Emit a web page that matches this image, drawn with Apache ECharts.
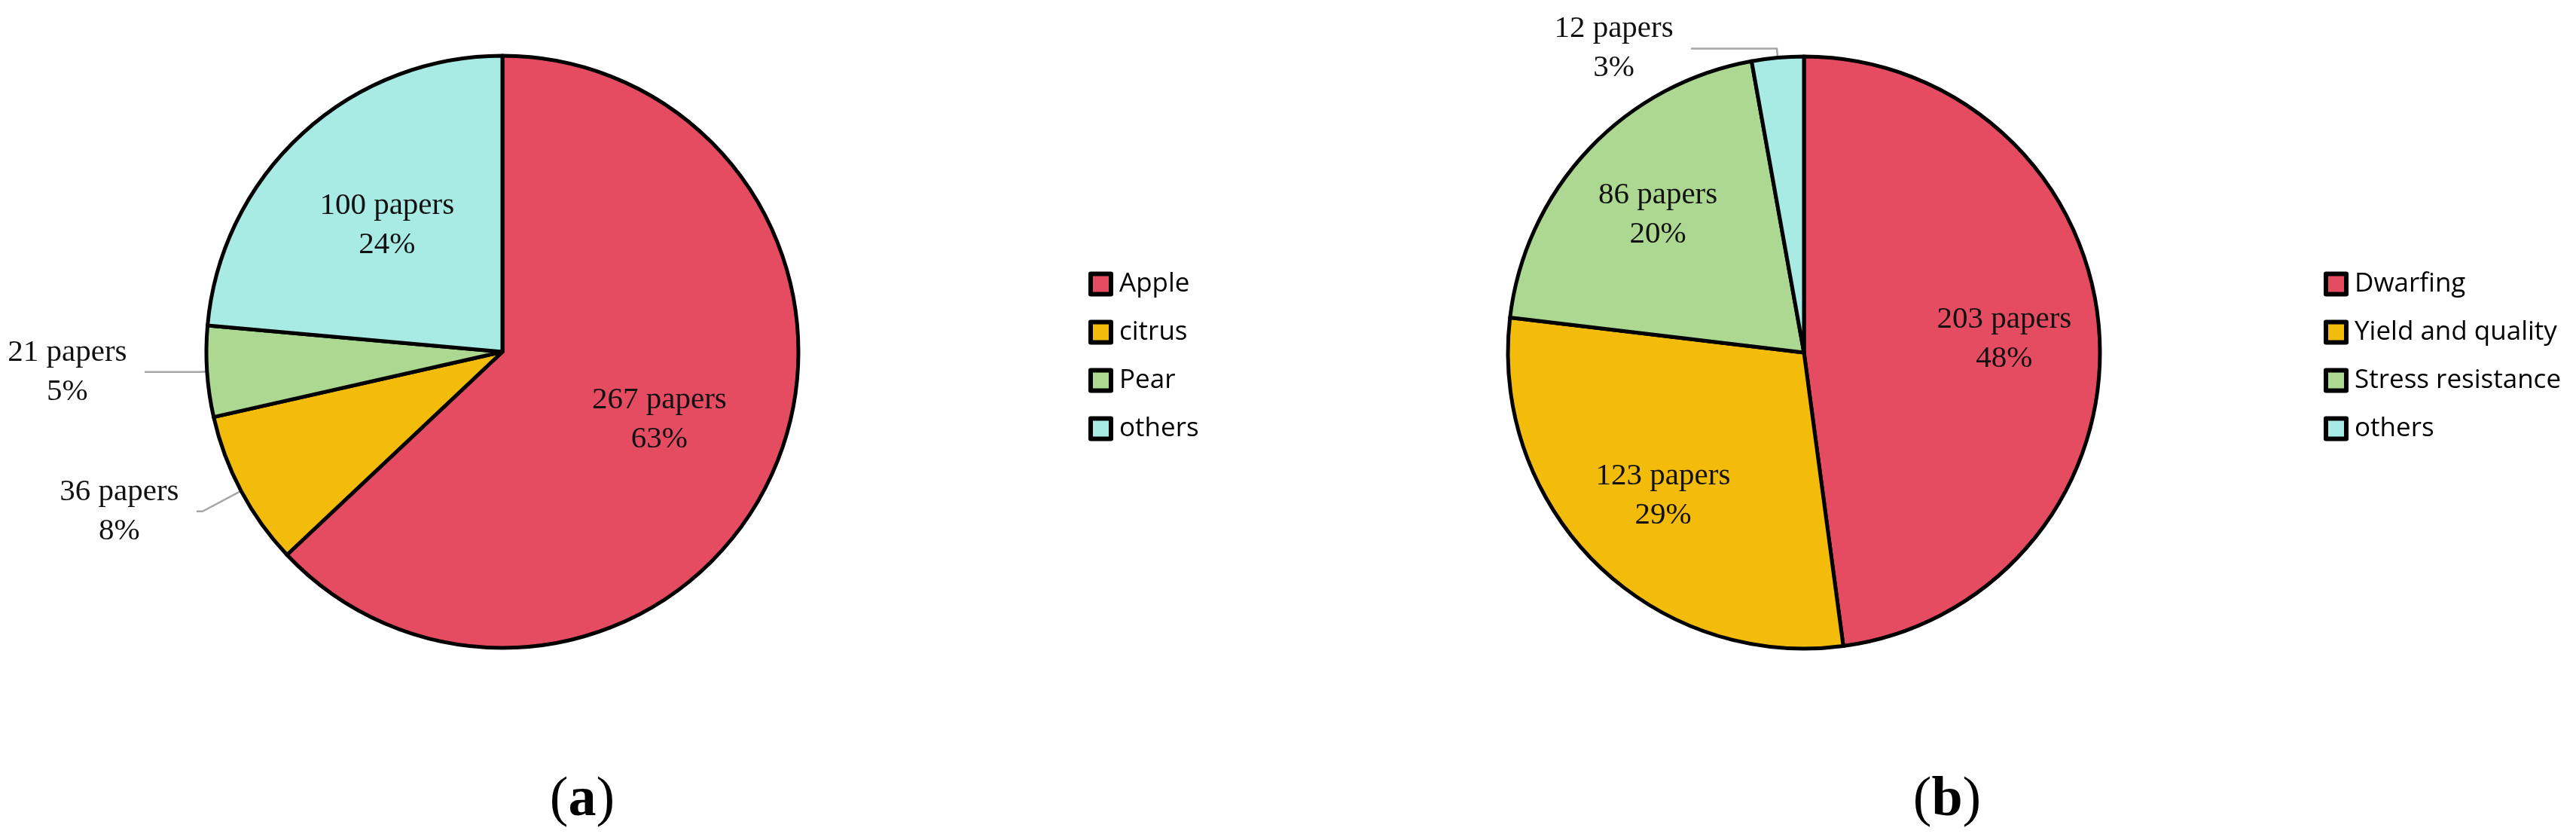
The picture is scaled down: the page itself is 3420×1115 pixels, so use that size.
<!DOCTYPE html>
<html>
<head>
<meta charset="utf-8">
<script src="https://cdn.jsdelivr.net/npm/echarts@6/dist/echarts.min.js"></script>
<style>
html, body { margin: 0; padding: 0; background: #fff; }
#chart { width: 3420px; height: 1115px; }
</style>
</head>
<body>
<div id="chart"></div>
<script>
// (a) papers per fruit crop
const cropNames = ['Apple', 'citrus', 'Pear', 'others']
const cropPapers = [267, 36, 21, 100]
// (b) papers per research topic
const traitNames = ['Dwarfing', 'Yield and quality', 'Stress resistance', 'others']
const traitPapers = [203, 123, 86, 12]
const panelTags = ['a', 'b']

const colors = ['#e54c62', '#f3bc0a', '#add891', '#a8eae4']
const serif = '"Liberation Serif", "Times New Roman", serif'

// leader line [length, length2] for the small slices labelled outside
const leadA = [null, [58, 8], [10, 73], null]
const leadB = [null, null, null, [12, 114]]

function labelText(p) {
  return '{t|' + p.value + ' papers}\n{t|' + Math.round(p.percent) + '%}'
}

const rich = {
  t: { fontFamily: serif, fontSize: 41, lineHeight: 52, color: '#111', width: 175, align: 'center' }
}

function pieSeries(names, values, center, lead) {
  const total = values.reduce((a, b) => a + b, 0)
  return {
    type: 'pie',
    center: center,
    radius: 393,
    startAngle: 90,
    clockwise: true,
    avoidLabelOverlap: false,
    animation: false,
    itemStyle: { borderColor: '#000', borderWidth: 5 },
    label: {
      position: 'outside',
      formatter: labelText,
      rich: rich,
      distanceToLabelLine: 15
    },
    labelLine: {
      lineStyle: { color: '#a6a6a6', width: 2.5 }
    },
    emphasis: { scale: false },
    data: names.map((n, i) => {
      const outside = values[i] / total < 0.1
      return {
        name: n,
        value: values[i],
        itemStyle: { color: colors[i] },
        label: { show: outside },
        labelLine: outside ? { show: true, length: lead[i][0], length2: lead[i][1] } : { show: false }
      }
    })
  }
}

// transparent copy of the pie, only for the labels inside the big slices
function innerLabels(names, values, center, r) {
  const total = values.reduce((a, b) => a + b, 0)
  return {
    type: 'pie',
    center: center,
    radius: r,
    startAngle: 90,
    clockwise: true,
    silent: true,
    animation: false,
    itemStyle: { color: 'transparent', borderWidth: 0 },
    label: { position: 'inside', formatter: labelText, rich: rich },
    labelLine: { show: false },
    data: names.map((n, i) => ({
      name: n,
      value: values[i],
      label: { show: values[i] / total >= 0.1 }
    }))
  }
}

function legend(names, left) {
  return {
    orient: 'vertical',
    left: left,
    top: 352,
    data: names,
    icon: 'rect',
    itemWidth: 27,
    itemHeight: 27,
    itemGap: 24,
    itemStyle: { borderColor: '#000', borderWidth: 6 },
    textStyle: { fontFamily: '"Open Sans", sans-serif', fontSize: 35, lineHeight: 40, color: '#000', padding: [0, 0, 0, 6] },
    selectedMode: false
  }
}

function tag(letter, x) {
  return {
    type: 'text',
    x: x,
    y: 1063,
    style: {
      text: '{p|(}{b|' + letter + '}{p|)}',
      align: 'center',
      verticalAlign: 'middle',
      rich: {
        p: { fontFamily: serif, fontSize: 74, fill: '#000' },
        b: { fontFamily: serif, fontSize: 74, fontWeight: 'bold', fill: '#000' }
      }
    }
  }
}

const chart = echarts.init(document.getElementById('chart'))
chart.setOption({
  backgroundColor: '#fff',
  color: colors,
  legend: [legend(cropNames, 1440), legend(traitNames, 3080)],
  graphic: [tag(panelTags[0], 773), tag(panelTags[1], 2585)],
  series: [
    pieSeries(cropNames, cropPapers, [667, 467], leadA),
    pieSeries(traitNames, traitPapers, [2395, 468], leadB),
    innerLabels(cropNames, cropPapers, [667, 467], 448),
    innerLabels(traitNames, traitPapers, [2395, 468], 527)
  ]
})
window.addEventListener('resize', function() {
  chart.resize()
})
</script>
</body>
</html>
